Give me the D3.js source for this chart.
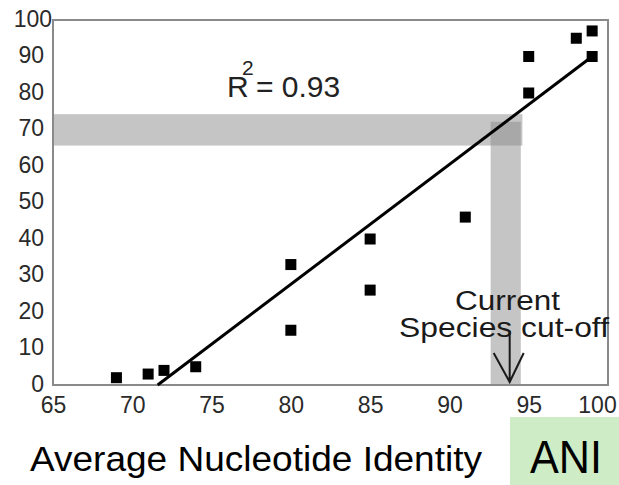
<!DOCTYPE html>
<html>
<head>
<meta charset="utf-8">
<script src="https://cdn.jsdelivr.net/npm/d3@7"></script>
<style>
  html, body { margin: 0; padding: 0; background: #fff; }
  svg { display: block; font-family: "Liberation Sans", Arial, Helvetica, sans-serif; }
</style>
</head>
<body>
<svg id="chart" width="619" height="485"></svg>
<script>
// ---- data ----
const xTicks = [65, 70, 75, 80, 85, 90, 95, 100];
const yTicks = [0, 10, 20, 30, 40, 50, 60, 70, 80, 90, 100];
const aniValues = [69, 71, 72, 74, 80, 80, 85, 85, 91, 95, 95, 98, 99, 99];
const dddhValues = [2, 3, 4, 5, 33, 15, 40, 26, 46, 90, 80, 95, 97, 90];
const fitX = [71.6, 99];
const fitY = [0, 90];
const hBandY = [65.6, 74.2];     // horizontal grey band (y range)
const hBandX = [65, 94.6];
const vBandX = [92.6, 94.5];     // vertical grey band (x range)
const vBandY = [0, 72.1];
const cutoffX = 93.8;
const r2Label = "= 0.93";

// ---- layout ----
const svg = d3.select("#chart");
const x = d3.scaleLinear().domain([65, 100]).range([53, 608]);
const y = d3.scaleLinear().domain([0, 100]).range([385, 20]);

// grey bands
const bandFill = "#8c8c8c", bandOp = 0.5;
svg.append("rect")
  .attr("x", x(hBandX[0])).attr("width", x(hBandX[1]) - x(hBandX[0]))
  .attr("y", y(hBandY[1])).attr("height", y(hBandY[0]) - y(hBandY[1]))
  .attr("fill", bandFill).attr("fill-opacity", bandOp);
svg.append("rect")
  .attr("x", x(vBandX[0])).attr("width", x(vBandX[1]) - x(vBandX[0]))
  .attr("y", y(vBandY[1])).attr("height", y(vBandY[0]) - y(vBandY[1]))
  .attr("fill", bandFill).attr("fill-opacity", bandOp);

// frame
svg.append("rect")
  .attr("x", x(65)).attr("y", y(100))
  .attr("width", x(100) - x(65)).attr("height", y(0) - y(100))
  .attr("fill", "none").attr("stroke", "#8a8a8a").attr("stroke-width", 2);

// axes
const yAxis = svg.append("g")
  .attr("transform", `translate(${x(65)},0)`)
  .call(d3.axisLeft(y).tickValues(yTicks).tickSize(0).tickPadding(9));
const xAxis = svg.append("g")
  .attr("transform", `translate(0,${y(0)})`)
  .call(d3.axisBottom(x).tickValues(xTicks).tickSize(0).tickPadding(12));
[yAxis, xAxis].forEach(g => {
  g.select(".domain").remove();
  g.selectAll("text").attr("font-size", 23).attr("fill", "#2a2a2a")
    .attr("font-family", "'Liberation Sans', Arial, sans-serif");
});
yAxis.selectAll("text").attr("dy", "0.27em")
  .filter(d => d === 100).attr("dx", 8);
xAxis.selectAll("text").filter(d => d === 100).attr("dx", -11);

// regression line
svg.append("line")
  .attr("x1", x(fitX[0])).attr("y1", y(fitY[0]))
  .attr("x2", x(fitX[1])).attr("y2", y(fitY[1]))
  .attr("stroke", "#000").attr("stroke-width", 3);

// points
const sz = 11;
svg.append("g").selectAll("rect")
  .data(aniValues.map((v, i) => [v, dddhValues[i]]))
  .join("rect")
  .attr("x", d => x(d[0]) - sz / 2).attr("y", d => y(d[1]) - sz / 2)
  .attr("width", sz).attr("height", sz).attr("fill", "#000");

// R^2 annotation
const r2 = svg.append("g").attr("fill", "#222");
r2.append("text").attr("x", 227).attr("y", 97).attr("font-size", 30).text("R");
r2.append("text").attr("x", 242).attr("y", 75).attr("font-size", 21).text("2");
r2.append("text").attr("x", 256).attr("y", 97).attr("font-size", 30).text(r2Label);

// cut-off annotation
svg.append("text").attr("x", 455).attr("y", 310).attr("font-size", 27)
  .attr("fill", "#1a1a1a").attr("textLength", 105).attr("lengthAdjust", "spacingAndGlyphs")
  .text("Current");
svg.append("text").attr("x", 399).attr("y", 337).attr("font-size", 28)
  .attr("fill", "#1a1a1a").attr("textLength", 210).attr("lengthAdjust", "spacingAndGlyphs")
  .text("Species cut-off");
const ax = x(cutoffX);
svg.append("path")
  .attr("d", `M${ax},331 L${ax},382 M${ax - 16},353 L${ax},382 L${ax + 14},353`)
  .attr("fill", "none").attr("stroke", "#1a1a1a").attr("stroke-width", 2);

// x-axis title and ANI box
svg.append("text").attr("x", 30).attr("y", 471).attr("font-size", 35)
  .attr("fill", "#000").attr("textLength", 452).attr("lengthAdjust", "spacingAndGlyphs")
  .text("Average Nucleotide Identity");
svg.append("rect").attr("x", 510).attr("y", 417).attr("width", 109).attr("height", 68)
  .attr("fill", "#ceedc6");
svg.append("text").attr("x", 530).attr("y", 473).attr("font-size", 46)
  .attr("fill", "#000").attr("textLength", 72).attr("lengthAdjust", "spacingAndGlyphs")
  .text("ANI");
</script>
</body>
</html>
